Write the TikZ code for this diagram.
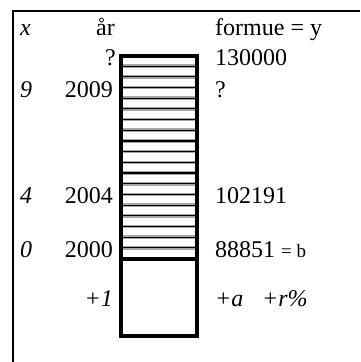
\documentclass[tikz,border=0pt]{standalone}
\usepackage{fontspec}
\setmainfont{Liberation Serif}
\definecolor{halo}{RGB}{165,165,165}
\usetikzlibrary{positioning}

\begin{document}
\begin{tikzpicture}[x=1pt,y=-1pt,
    lbl/.style={inner sep=0pt,font=\fontsize{24}{28}\selectfont},
    lblw/.style={lbl,anchor=base west},
    lble/.style={lbl,anchor=base east},
    barline/.style={line width=4pt},
  ]
  \useasboundingbox (0,0) rectangle (360,362);
  % frame, open on the right and at the bottom
  \draw[line width=2.2pt] (13,362) -- (13,11) -- (360,11);
  % stripes of the bar, one per step
  \foreach \k in {1,...,18}{
    \draw[halo,line width=3.6pt] (121,{55.5+\k*10.684}) -- (197,{55.5+\k*10.684});
    \draw[line width=1.1pt] (121,{55.5+\k*10.684}) -- (197,{55.5+\k*10.684});
  }
  % the bar itself
  \draw[barline] (121,55.5) rectangle (197,336);
  \draw[barline] (121,258.5) -- (197,258.5);
  % headings
  \node[lblw] (hx) at (20,35) {\textit{x}};
  \node[lble] (hyear) at (115,35) {år};
  \node[lblw] (hwealth) at (215,35) {formue = y};
  % rows
  \node[lble] (yq) at (116,65) {?};
  \node[lblw] (wtop) at (215,65) {130000};
  \node[lblw] (x9) at (20,97) {\textit{9}};
  \node[lble] (y9) at (113,97) {2009};
  \node[lblw] (wq) at (215,97) {?};
  \node[lblw] (x4) at (20,203) {\textit{4}};
  \node[lble] (y4) at (113,203) {2004};
  \node[lblw] (w4) at (215,203) {102191};
  \node[lblw] (x0) at (20,257) {\textit{0}};
  \node[lble] (y0) at (113,257) {2000};
  \node[lblw] (w0) at (215,257) {88851 {\fontsize{19}{22}\selectfont= b}};
  \node[lble] (ystep) at (113,306) {\textit{+1}};
  \node[lblw] (wa) at (215,306) {\textit{+a}};
  \node[lblw] (wr) at (262,306) {\textit{+r\%}};
\end{tikzpicture}
\end{document}
